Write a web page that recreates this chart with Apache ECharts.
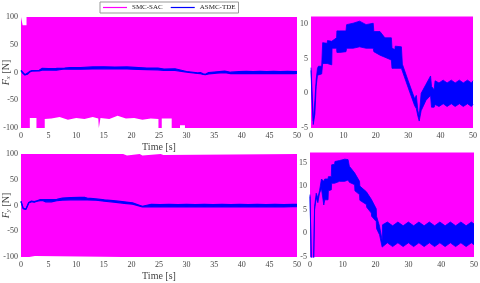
<!DOCTYPE html>
<html><head><meta charset="utf-8">
<script src="https://cdn.jsdelivr.net/npm/echarts@6/dist/echarts.min.js"></script>
<style>html,body{margin:0;padding:0;background:#fff}#c{width:480px;height:283px}</style>
</head><body><div id="c"></div>
<script>
// ---- data ----
const legendNames = ['SMC-SAC', 'ASMC-TDE'];
const leftXTicks = [0, 5, 10, 15, 20, 25, 30, 35, 40, 45, 50];
const rightXTicks = [0, 10, 20, 30, 40, 50];

// ASMC-TDE, Fx : upper / lower envelope of the fast oscillation
const fxT     = [0, 0.3, 0.7, 1.2, 1.6, 2.0, 2.3, 3.3, 3.6, 3.8, 5.0, 5.1, 6.4, 6.5, 7.9, 8.0, 8.9, 9.0, 10.8, 11.0, 13.0, 15.0, 17.0, 19.2, 19.4, 21.3, 22.8, 24.8, 25.0, 25.9, 26.0, 27.9, 28.2, 30.0, 32.0, 32.5, 33.0, 33.4, 34.0, 35.5, 36.9, 37.2, 38.0, 38.3, 39.5, 40.8, 42.0, 43.3, 44.5, 45.8, 47.0, 48.3, 49.5, 50];
const fxUpper = [3.7, 0.5, -4.0, -1.0, 2.0, 3.6, 3.9, 3.9, 7.3, 7.3, 7.2, 7.6, 7.5, 7.7, 8.0, 9.0, 9.0, 9.2, 9.0, 9.9, 10.1, 10.4, 9.9, 10.1, 8.9, 8.9, 8.0, 8.0, 6.5, 6.3, 6.8, 6.7, 4.2, 1.8, -0.8, -0.3, -2.5, -3.3, 0.0, 1.3, 2.5, 1.0, 0.5, 1.8, 1.5, 1.9, 1.5, 1.9, 1.5, 1.9, 1.5, 1.9, 1.5, 1.8];
const fxLower = [3.3, -1.0, -4.5, -3.0, 1.0, 2.6, 2.6, 2.8, 4.3, 4.3, 4.3, 4.1, 4.1, 6.5, 6.5, 5.9, 5.9, 6.0, 6.0, 6.5, 6.5, 6.7, 6.5, 6.5, 6.0, 5.5, 5.2, 4.8, 3.6, 3.6, 3.6, 3.6, 3.2, 0.8, -1.8, -2.2, -3.3, -4.0, -2.5, -1.0, -0.3, -2.0, -2.0, -1.6, -1.9, -1.5, -1.9, -1.5, -1.9, -1.5, -1.9, -1.5, -1.9, -1.6];

// ASMC-TDE, Fy
const fyT     = [0, 0.4, 0.9, 1.1, 1.4, 1.9, 2.4, 2.9, 3.5, 4.0, 4.2, 4.5, 5.5, 5.6, 6.5, 6.6, 7.5, 7.6, 9.0, 10.6, 11.6, 12.0, 13.6, 13.7, 15.1, 15.2, 17.2, 17.3, 18.7, 18.8, 20.2, 20.3, 21.2, 22.0, 22.1, 23.6, 25.2, 26.8, 28.4, 30.0, 31.6, 33.2, 34.8, 36.4, 38.0, 39.6, 41.2, 42.8, 44.4, 46.0, 47.6, 49.2, 50];
const fyUpper = [8.2, -5.5, -7.0, -6.0, 5.7, 8.5, 7.5, 9.0, 11.5, 11.6, 11.0, 11.5, 11.5, 12.0, 12.0, 14.5, 14.6, 15.2, 15.4, 15.7, 15.6, 14.2, 12.8, 12.7, 11.0, 10.0, 8.8, 8.5, 7.2, 6.8, 5.2, 3.6, 1.5, -1.5, 1.8, 2.4, 1.6, 2.4, 1.6, 2.4, 1.6, 2.4, 1.6, 2.4, 1.6, 2.4, 1.6, 2.4, 1.6, 2.4, 1.6, 2.4, 2.0];
const fyLower = [7.8, -6.0, -7.5, -6.5, 5.0, 7.5, 6.5, 8.5, 9.5, 9.5, 6.0, 7.1, 7.1, 9.0, 9.2, 10.6, 10.6, 10.6, 11.0, 11.0, 11.3, 10.8, 10.3, 9.0, 8.2, 7.0, 6.1, 5.5, 4.3, 3.6, 2.5, 1.0, -0.3, -2.9, -2.8, -2.0, -2.8, -2.0, -2.8, -2.0, -2.8, -2.0, -2.8, -2.0, -2.8, -2.0, -2.8, -2.0, -2.8, -2.0, -2.8, -2.0, -2.4];

// SMC-SAC, Fx : saturated chattering band
const smcFxT     = [0, 0.3, 0.3, 1.0, 1.0, 1.6, 1.6, 2.8, 2.8, 4.3, 4.3, 5.5, 7.0, 8.5, 10.0, 11.5, 13.0, 14.0, 14.1, 14.3, 14.4, 16.0, 17.5, 19.0, 20.5, 22.0, 23.5, 24.9, 24.9, 25.5, 25.5, 27.3, 27.3, 28.8, 28.8, 29.7, 29.7, 50];
const smcFxUpper = [100, 100, 85, 85, 100, 100, 100, 100, 100, 100, 100, 100, 100, 100, 100, 100, 100, 100, 100, 100, 100, 100, 100, 100, 100, 100, 100, 100, 100, 100, 100, 100, 100, 100, 100, 100, 100, 100];
const smcFxLower = [-100, -100, -100, -100, -100, -100, -82, -82, -100, -100, -84, -83, -80, -85, -82, -84, -80, -83, -100, -100, -82, -84, -78, -83, -82, -85, -83, -84, -100, -100, -83, -83, -100, -100, -95, -95, -100, -100];

// SMC-SAC, Fy
const smcFyT     = [0, 1.5, 1.5, 2.5, 2.5, 18.5, 18.5, 19.2, 19.2, 21.5, 21.5, 22.0, 22.0, 25.3, 25.3, 25.8, 25.8, 50];
const smcFyUpper = [100, 100, 100, 100, 100, 100, 97, 97, 100, 100, 97, 97, 100, 100, 98, 98, 100, 100];
const smcFyLower = [-100, -100, -98, -98, -100, -100, -100, -100, -100, -100, -100, -100, -100, -100, -100, -100, -100, -100];

// ---- styling ----
const MAG = '#ff00ff', BLUE = '#0000ff', BG = '#ffffff';
const FONT = '"Liberation Serif", "DejaVu Serif", serif';
const TXT = '#444';

// line whose area is filled down to the bottom of the axis
function fill(name, t, v, gi, lineColor, lineW, fillColor) {
  return {
    type: 'line', name: name, xAxisIndex: gi, yAxisIndex: gi,
    symbol: 'none', silent: true, clip: true,
    data: t.map((x, i) => [x, v[i]]),
    lineStyle: { color: lineColor, width: lineW || 1, opacity: lineW ? 1 : 0 },
    itemStyle: { color: lineColor },
    areaStyle: { color: fillColor, opacity: 1, origin: 'start' }
  };
}
// band = area under upper (colour) then area under lower (covering colour)
function panel(gi, smcT, smcUp, smcLo, aT, aUp, aLo, edge) {
  return [
    fill(gi === 0 ? legendNames[0] : 'smc-up-' + gi, smcT, smcUp, gi, MAG, 0, MAG),
    fill(gi === 0 ? legendNames[1] : 'asmc-up-' + gi, aT, aUp, gi, BLUE, edge, BLUE),
    fill('asmc-lo-' + gi, aT, aLo, gi, BLUE, edge, MAG),
    fill('smc-lo-' + gi, smcT, smcLo, gi, MAG, 0, BG)
  ];
}

const grids = [
  { left: 21, top: 17, width: 276, height: 111, outerBoundsMode: 'none', containLabel: false },
  { left: 311, top: 17, width: 162, height: 111, outerBoundsMode: 'none', containLabel: false },
  { left: 21, top: 154, width: 276, height: 103, outerBoundsMode: 'none', containLabel: false },
  { left: 310, top: 153, width: 164, height: 104, outerBoundsMode: 'none', containLabel: false }
];

const axLabel = { fontFamily: FONT, fontSize: 8, color: TXT, margin: 3 };
const nameStyle = { fontFamily: FONT, fontSize: 10, color: TXT };

function xAx(gi, ticks, withName) {
  return {
    type: 'value', gridIndex: gi, min: ticks[0], max: ticks[ticks.length - 1],
    interval: ticks[1] - ticks[0],
    axisLine: { show: false }, axisTick: { show: false }, splitLine: { show: false },
    axisLabel: Object.assign({}, axLabel, { margin: 4 }),
    name: withName ? 'Time [s]' : '', nameLocation: 'middle', nameGap: 14,
    nameMoveOverlap: false,
    nameTextStyle: nameStyle
  };
}
function yAx(gi, min, max, interval, sub) {
  const o = {
    type: 'value', gridIndex: gi, min: min, max: max, interval: interval,
    axisLine: { show: false }, axisTick: { show: false }, splitLine: { show: false },
    axisLabel: Object.assign({}, axLabel, { showMaxLabel: max % interval === 0 })
  };
  if (sub) {
    o.name = '{f|F}{s|' + sub + '} [N]';
    o.nameLocation = 'middle';
    o.nameGap = 9;
    o.nameMoveOverlap = false;
    o.nameTextStyle = {
      fontFamily: FONT, fontSize: 10, color: TXT,
      rich: {
        f: { fontFamily: FONT, fontSize: 10, fontStyle: 'italic', color: TXT },
        s: { fontFamily: FONT, fontSize: 7, fontStyle: 'italic', color: TXT, padding: [5, 0, 0, 0] }
      }
    };
  }
  return o;
}

const series = [].concat(
  panel(0, smcFxT, smcFxUpper, smcFxLower, fxT, fxUpper, fxLower, 1.2),
  panel(1, smcFxT, smcFxUpper, smcFxLower, fxT, fxUpper, fxLower, 0.8),
  panel(2, smcFyT, smcFyUpper, smcFyLower, fyT, fyUpper, fyLower, 1.2),
  panel(3, smcFyT, smcFyUpper, smcFyLower, fyT, fyUpper, fyLower, 0.8)
);

const chart = echarts.init(document.getElementById('c'), null, { renderer: 'canvas' });
chart.setOption({
  animation: false,
  backgroundColor: '#fff',
  grid: grids,
  xAxis: [xAx(0, leftXTicks, true), xAx(1, rightXTicks, false), xAx(2, leftXTicks, true), xAx(3, rightXTicks, false)],
  yAxis: [yAx(0, -100, 100, 50, 'x'), yAx(1, -5, 11, 5), yAx(2, -100, 100, 50, 'y'), yAx(3, -5, 17, 5)],
  legend: {
    left: 100, top: 2, orient: 'horizontal',
    data: [
      { name: legendNames[0], icon: 'rect', itemStyle: { color: MAG, opacity: 1 } },
      { name: legendNames[1], icon: 'rect', itemStyle: { color: BLUE, opacity: 1 } }
    ],
    itemWidth: 24, itemHeight: 1.2, itemGap: 8,
    padding: [2, 3, 2, 3],
    borderColor: '#999', borderWidth: 1, backgroundColor: '#fff',
    textStyle: { fontFamily: FONT, fontSize: 7, color: '#222' },
    selectedMode: false
  },
  series: series
});
</script>
</body></html>
